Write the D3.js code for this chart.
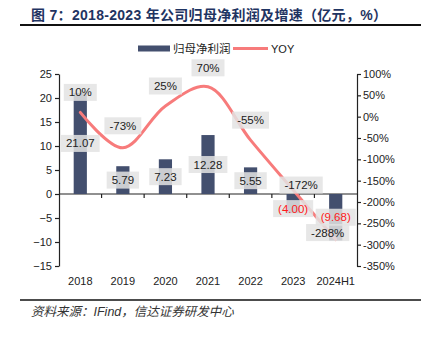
<!DOCTYPE html>
<html>
<head>
<meta charset="utf-8">
<script src="https://cdn.jsdelivr.net/npm/d3@7"></script>
<style>
  html, body { margin: 0; padding: 0; background: #ffffff; }
  svg { display: block; }
  text { font-family: "Liberation Sans", Arial, "Noto Sans CJK SC", sans-serif; }
</style>
</head>
<body>
<svg id="chart" width="427" height="342"></svg>
<script>
// Net profit attributable to parent (亿元) and its YoY growth (%)
const categories = ["2018", "2019", "2020", "2021", "2022", "2023", "2024H1"];
const netProfit = [21.07, 5.79, 7.23, 12.28, 5.55, -4.00, -9.68];
const yoy = [10, -73, 25, 70, -55, -172, -288];
const leftTicks = [-15, -10, -5, 0, 5, 10, 15, 20, 25];
const rightTicks = [-350, -300, -250, -200, -150, -100, -50, 0, 50, 100];

// Label nudges (px) so boxes do not collide
const yoyLabelDx = [0, 0, 0, 0, 0, 8, -8];
const yoyLabelDy = [-20, -22, -20, -19, -20, -5, -7];
const barLabelDy = [0, 0, 0, 0, 0, 5, 0];

const svg = d3.select("#chart");
const barColor = "#434f6e";
const lineColor = "#f77b7b";
const plot = { left: 59, right: 357, top: 74, bottom: 266 };

const x = d3.scaleBand().domain(categories).range([plot.left, plot.right]).padding(0);
const yL = d3.scaleLinear().domain([-15, 25]).range([plot.bottom, plot.top]);
const yR = d3.scaleLinear().domain([-350, 100]).range([plot.bottom, plot.top]);

// Title and rules
svg.append("text")
  .attr("x", 31).attr("y", 20)
  .attr("font-family", "'Noto Sans CJK SC', 'Liberation Sans', sans-serif")
  .attr("font-size", 14).attr("font-weight", "bold").attr("fill", "#1f3462")
  .attr("letter-spacing", 0.3)
  .text("图 7：2018-2023 年公司归母净利润及增速（亿元，%）");
svg.append("line").attr("x1", 20).attr("x2", 421).attr("y1", 25).attr("y2", 25)
  .attr("stroke", "#111").attr("stroke-width", 2);
svg.append("line").attr("x1", 20).attr("x2", 421).attr("y1", 300).attr("y2", 300)
  .attr("stroke", "#111").attr("stroke-width", 1.5);
svg.append("text")
  .attr("x", 31).attr("y", 316)
  .attr("font-family", "'Noto Sans CJK SC', sans-serif")
  .attr("font-size", 12.5).attr("font-style", "italic").attr("fill", "#333")
  .text("资料来源：IFind，信达证券研发中心");

// Legend
const legend = svg.append("g");
legend.append("rect").attr("x", 138).attr("y", 45.5).attr("width", 32).attr("height", 6).attr("fill", barColor);
legend.append("text").attr("x", 173).attr("y", 52.5)
  .attr("font-family", "'Noto Sans CJK SC', sans-serif")
  .attr("font-size", 11.5).attr("fill", "#222").text("归母净利润");
legend.append("line").attr("x1", 233).attr("x2", 268).attr("y1", 48.5).attr("y2", 48.5)
  .attr("stroke", lineColor).attr("stroke-width", 3);
legend.append("text").attr("x", 271).attr("y", 52.5)
  .attr("font-size", 11).attr("fill", "#222").text("YOY");

// Axes
const axL = svg.append("g").attr("transform", `translate(${plot.left},0)`)
  .call(d3.axisLeft(yL).tickValues(leftTicks).tickSize(4).tickSizeOuter(0).tickPadding(3));
const axR = svg.append("g").attr("transform", `translate(${plot.right},0)`)
  .call(d3.axisRight(yR).tickValues(rightTicks).tickFormat(d => d + "%").tickSize(4).tickSizeOuter(0).tickPadding(2));
[axL, axR].forEach(g => {
  g.selectAll("path.domain").attr("stroke", "#222").attr("stroke-width", 1.2);
  g.selectAll(".tick line").attr("stroke", "#222").attr("stroke-width", 1.2);
  g.selectAll(".tick text").attr("font-size", 11).attr("fill", "#222")
    .attr("font-family", "'Liberation Sans', Arial, sans-serif");
});

// Zero line with category boundary ticks
const y0 = yL(0);
svg.append("line").attr("x1", plot.left).attr("x2", plot.right).attr("y1", y0).attr("y2", y0)
  .attr("stroke", "#222").attr("stroke-width", 1.2);
svg.append("g").selectAll("line").data(categories.slice(1)).join("line")
  .attr("x1", d => x(d)).attr("x2", d => x(d))
  .attr("y1", y0).attr("y2", y0 + 4)
  .attr("stroke", "#222").attr("stroke-width", 1.2);

// Category labels along the bottom
svg.append("g").selectAll("text").data(categories).join("text")
  .attr("x", d => x(d) + x.bandwidth() / 2).attr("y", 285)
  .attr("text-anchor", "middle").attr("font-size", 11).attr("fill", "#222")
  .text(d => d);

// Bars
const barW = x.bandwidth() * 0.31;
svg.append("g").selectAll("rect").data(categories).join("rect")
  .attr("x", d => x(d) + x.bandwidth() / 2 - barW / 2)
  .attr("width", barW)
  .attr("y", (d, i) => Math.min(yL(netProfit[i]), y0))
  .attr("height", (d, i) => Math.abs(yL(netProfit[i]) - y0))
  .attr("fill", barColor);

// YoY smoothed line
const pts = categories.map((c, i) => [x(c) + x.bandwidth() / 2, yR(yoy[i])]);
svg.append("path").datum(pts)
  .attr("d", d3.line().curve(d3.curveCatmullRom.alpha(0.5)))
  .attr("fill", "none").attr("stroke", lineColor).attr("stroke-width", 3)
  .attr("stroke-linecap", "round");

// Label boxes
function boxLabel(g, cx, cy, str, color) {
  const t = g.append("text").attr("x", cx).attr("y", cy + 4)
    .attr("text-anchor", "middle").attr("font-size", 11.5).attr("fill", color).text(str);
  const w = t.node().getComputedTextLength() + 10;
  g.insert("rect", "text").attr("x", cx - w / 2).attr("y", cy - 8.5)
    .attr("width", w).attr("height", 17).attr("fill", "#e3e3e3").attr("fill-opacity", 0.85);
}

const fmt = d3.format(".2f");
categories.forEach((c, i) => {
  const v = netProfit[i];
  const cx = x(c) + x.bandwidth() / 2;
  const cy = (yL(v) + y0) / 2 + barLabelDy[i];
  const g = svg.append("g");
  boxLabel(g, cx, cy, v < 0 ? `(${fmt(-v)})` : fmt(v), v < 0 ? "#ff1a1a" : "#222");
});
categories.forEach((c, i) => {
  const g = svg.append("g");
  boxLabel(g, pts[i][0] + yoyLabelDx[i], pts[i][1] + yoyLabelDy[i], yoy[i] + "%", "#222");
});
</script>
</body>
</html>
